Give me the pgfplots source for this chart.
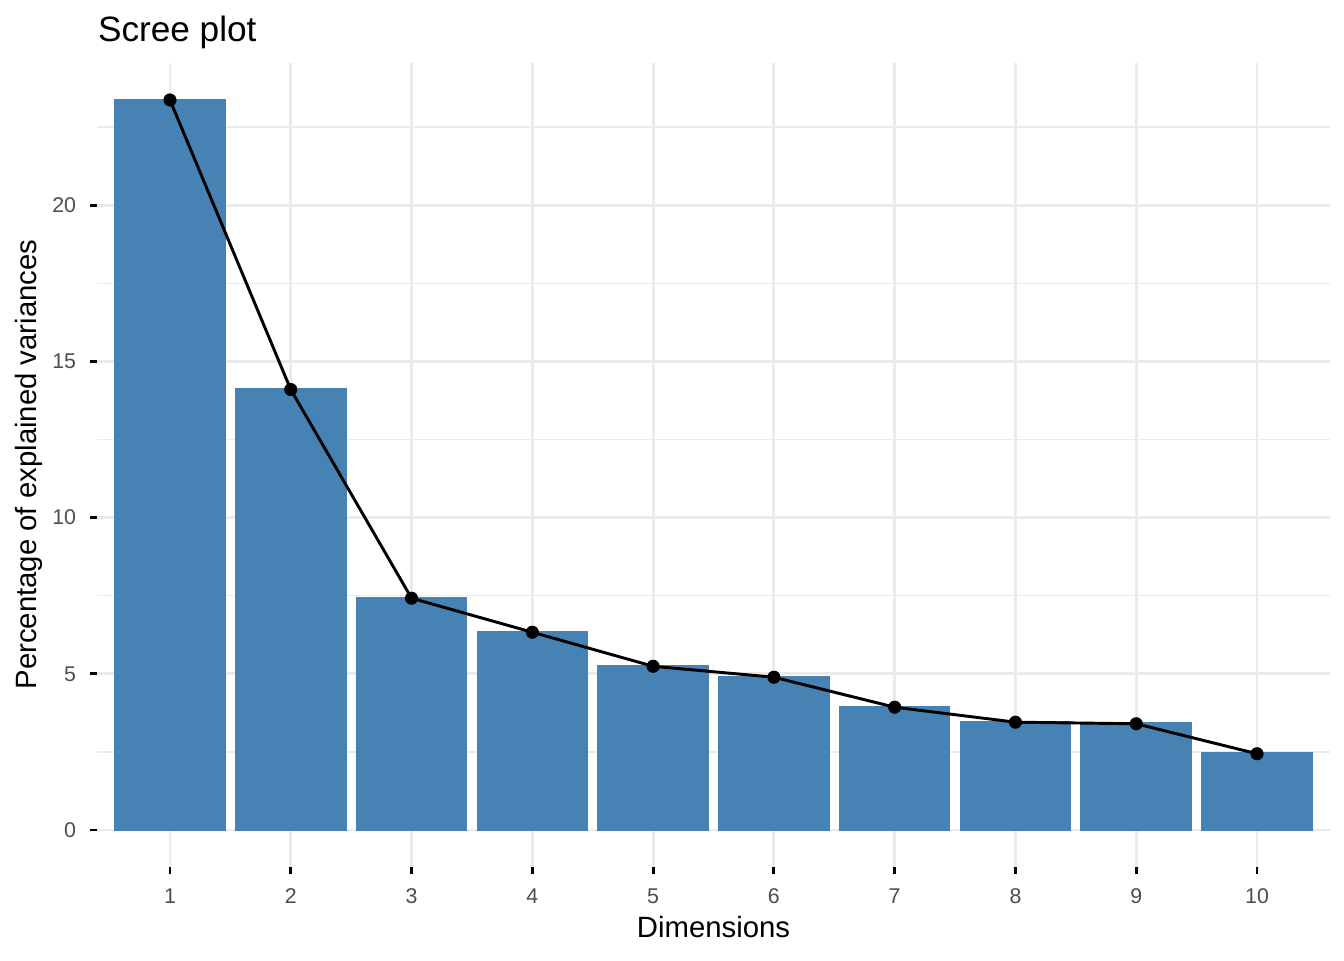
\documentclass[border=0pt]{standalone}
\usepackage{fontspec}
\setmainfont{Liberation Sans}
\usepackage{pgfplots}
\pgfplotsset{compat=1.18}
\definecolor{steelblue}{HTML}{4682B4}
\definecolor{grid92}{HTML}{EBEBEB}
\definecolor{grey30}{HTML}{4D4D4D}
\begin{document}
\begin{tikzpicture}
\useasboundingbox (0,0) rectangle (504pt,360pt);
\begin{axis}[
  at={(36.5625pt,35.0625pt)}, anchor=south west,
  scale only axis, width=462pt, height=301.5pt,
  xmin=0.4, xmax=10.6, ymin=-1.17, ymax=24.57,
  xtick={1,2,3,4,5,6,7,8,9,10},
  ytick={0,5,10,15,20},
  minor ytick={2.5,7.5,12.5,17.5,22.5},
  grid=both,
  major grid style={color=grid92, line width=1.07pt},
  minor grid style={color=grid92, line width=0.53pt},
  separate axis lines,
  axis line style={draw=none},
  tick pos=left,
  tick align=outside,
  major tick length=2.75pt,
  minor tick length=0pt,
  major tick style={black, line width=1.07pt},
  minor tick style={draw=none},
  /pgf/number format/assume math mode=true,
  ticklabel style={font=\fontsize{8}{9.6}\selectfont, color=grey30, inner sep=0pt},
  xticklabel style={anchor=north},
  yticklabel style={anchor=east},
  xticklabel shift=5.3pt,
  yticklabel shift=5.1pt,
  xlabel={Dimensions},
  ylabel={Percentage of explained variances},
  label style={font=\fontsize{11}{13.2}\selectfont, inner sep=0pt},
  xlabel style={at={(axis description cs:0.5,-0.0880)}, anchor=base},
  ylabel style={at={(axis description cs:-0.04991,0.5)}, anchor=base, rotate=0},
  title={Scree plot},
  title style={at={(axis description cs:0,1.0267)}, anchor=base west, yshift=-6pt, inner sep=0pt, font=\fontsize{13.2}{15.8}\selectfont},
  clip=false,
]
\addplot[ybar, bar width=0.9, fill=steelblue, draw=steelblue, line width=1.07pt] coordinates {
  (1,23.37) (2,14.10) (3,7.42) (4,6.33) (5,5.24) (6,4.89) (7,3.93) (8,3.45) (9,3.40) (10,2.44)
};
\addplot[black, line width=1.1pt, mark=*, mark size=2.3pt, mark options={solid, fill=black, draw=black, line width=0.3pt}] coordinates {
  (1,23.37) (2,14.10) (3,7.42) (4,6.33) (5,5.24) (6,4.89) (7,3.93) (8,3.45) (9,3.40) (10,2.44)
};
\end{axis}
\end{tikzpicture}
\end{document}
